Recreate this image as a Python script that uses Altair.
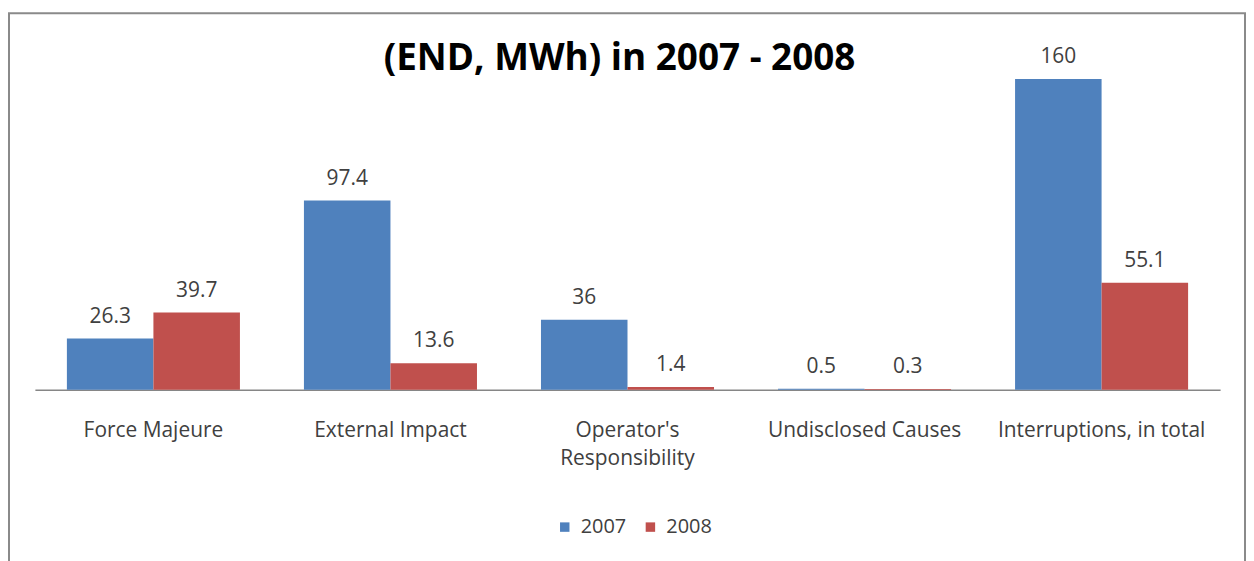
import altair as alt
import pandas as pd

categories = ["Force Majeure", "External Impact", "Operator's\nResponsibility",
              "Undisclosed Causes", "Interruptions, in total"]
series = ["2007", "2008"]
v2007 = [26.3, 97.4, 36, 0.5, 160]
v2008 = [39.7, 13.6, 1.4, 0.3, 55.1]
colors = ["#4F81BD", "#C0504D"]

rows = []
for c, a, b in zip(categories, v2007, v2008):
    rows.append({"cat": c, "year": "2007", "value": a})
    rows.append({"cat": c, "year": "2008", "value": b})
df = pd.DataFrame(rows)

FONT = "Open Sans"
TXT = "#404040"

x = alt.X("cat:N", sort=categories,
          scale=alt.Scale(paddingInner=0.27, paddingOuter=0.135),
          axis=alt.Axis(title=None, labelAngle=0, ticks=False, domainColor="#868686",
                        domainWidth=1.5, labelFontSize=21, labelFont=FONT, labelColor=TXT,
                        labelPadding=30, labelLineHeight=28, labelLimit=0,
                        labelExpr='split(datum.label, "\\n")'))
y = alt.Y("value:Q", scale=alt.Scale(domain=[0, 160]), axis=None)
xo = alt.XOffset("year:N", sort=series)

bars = alt.Chart(df).mark_bar().encode(
    x=x, y=y, xOffset=xo,
    color=alt.Color("year:N", sort=series,
                    scale=alt.Scale(domain=series, range=colors),
                    legend=alt.Legend(title=None, orient="none", legendX=522, legendY=440,
                                      direction="horizontal", symbolType="square",
                                      symbolSize=90, labelFontSize=20, labelFont=FONT,
                                      labelColor=TXT, labelOffset=6, columnPadding=14,
                                      symbolStrokeWidth=0))
)

labels = alt.Chart(df).mark_text(dy=-22, fontSize=21, font=FONT, color=TXT).encode(
    x=x, y=y, xOffset=xo, text=alt.Text("value:Q", format="~g")
)

frame = alt.Chart(pd.DataFrame({"f": [0]})).mark_rect(
    filled=False, stroke="#8a8a8a", strokeWidth=2
).encode(x=alt.value(-26), x2=alt.value(1215), y=alt.value(-66), y2=alt.value(520))

chart = alt.layer(frame, bars, labels).properties(
    width=1190, height=312,
    padding={"left": 0, "top": 3, "right": 0, "bottom": 0},
    title=alt.TitleParams("(END, MWh) in 2007 - 2008", fontSize=37, font=FONT,
                          fontWeight="bold", color="black", anchor="middle",
                          baseline="alphabetic", offset=-95, dx=-8),
).configure_view(stroke=None)

chart.save("out.html", embed_options={"renderer": "svg", "actions": False})
